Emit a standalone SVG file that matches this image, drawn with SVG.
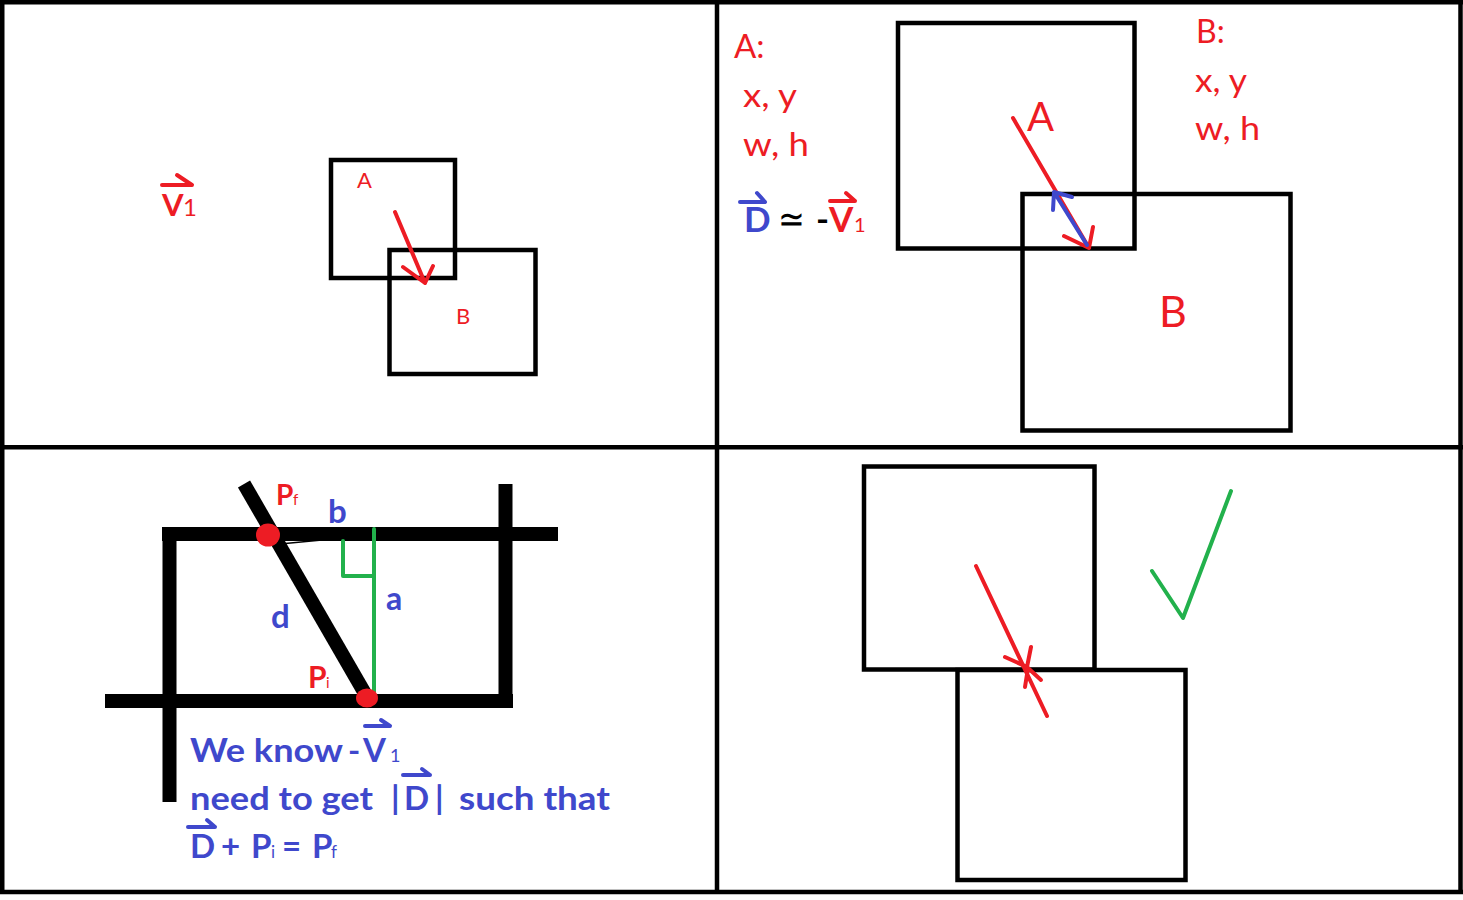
<svg xmlns="http://www.w3.org/2000/svg" width="1463" height="900" viewBox="0 0 1463 900">
<style>
.fr{stroke:#000;stroke-width:4.5;fill:none}
.box{fill:none;stroke:#000;stroke-width:4.5}
.thick{stroke:#000;stroke-width:14;fill:none}
.t{font-family:Lato,"Liberation Sans",sans-serif}
.bd{font-weight:bold}
.r{fill:#ed1c24}
.bl{fill:#3f48cc}
.k{fill:#000}
.rs{stroke:#ed1c24;stroke-width:4;fill:none;stroke-linecap:round;stroke-linejoin:round}
.bs{stroke:#3f48cc;stroke-width:4;fill:none;stroke-linecap:round;stroke-linejoin:round}
.gs{stroke:#22b14c;stroke-width:4;fill:none;stroke-linecap:round;stroke-linejoin:round}
</style>
<rect width="1463" height="900" fill="#fff"/>
<g id="frame">
<line class="fr" x1="0" y1="2.25" x2="1463" y2="2.25"/>
<line class="fr" x1="2.25" y1="0" x2="2.25" y2="894"/>
<line class="fr" x1="1460.5" y1="0" x2="1460.5" y2="894"/>
<line class="fr" x1="0" y1="892" x2="1463" y2="892"/>
<line class="fr" x1="717" y1="0" x2="717" y2="894"/>
<line class="fr" x1="0" y1="447.3" x2="1463" y2="447.3"/>
</g>
<!-- Panel 1 -->
<g id="p1-boxA"><rect class="box" x="331" y="160" width="124" height="118"/><text class="t r" x="357" y="188" font-size="22">A</text></g>
<g id="p1-boxB"><rect class="box" x="389.5" y="250" width="146" height="124"/><text class="t r" x="456" y="324" font-size="22">B</text></g>
<g id="p1-v1"><text class="t r bd" x="162" y="216" font-size="31">V</text><text class="t r" x="183" y="216" font-size="24">1</text></g>
<!-- Panel 2 -->
<g id="p2-boxA"><rect class="box" x="898" y="23" width="236.5" height="225.5"/><text class="t r" x="1027" y="131" font-size="40">A</text></g>
<g id="p2-boxB"><rect class="box" x="1022.5" y="194" width="268" height="236.5"/><text class="t r" x="1159" y="327" font-size="43">B</text></g>
<g id="p2-labelA">
<text class="t r" x="734" y="58" font-size="33">A:</text>
<text class="t r" x="743" y="107" font-size="33" textLength="54" lengthAdjust="spacingAndGlyphs">x, y</text>
<text class="t r" x="743" y="156" font-size="33" textLength="66" lengthAdjust="spacingAndGlyphs">w, h</text>
</g>
<g id="p2-labelB">
<text class="t r" x="1196" y="43" font-size="32">B:</text>
<text class="t r" x="1195" y="92" font-size="33" textLength="52" lengthAdjust="spacingAndGlyphs">x, y</text>
<text class="t r" x="1195" y="140" font-size="33" textLength="65" lengthAdjust="spacingAndGlyphs">w, h</text>
</g>
<g id="p2-eq">
<text class="t bl bd" x="744" y="232" font-size="35">D</text>
<text class="t k" x="778" y="232" font-size="38" textLength="27" lengthAdjust="spacingAndGlyphs">≃</text>
<text class="t k bd" x="816" y="232" font-size="35">-</text>
<text class="t r bd" x="829" y="232" font-size="35">V</text>
<text class="t r" x="854" y="232" font-size="20">1</text>
</g>
<!-- Panel 3 -->
<g id="p3-shape">
<line class="thick" x1="162" y1="534" x2="558" y2="534"/>
<line class="thick" x1="169.5" y1="527" x2="169.5" y2="802"/>
<line class="thick" x1="105" y1="701" x2="513" y2="701"/>
<line class="thick" x1="505.5" y1="484" x2="505.5" y2="708"/>
<line class="thick" x1="244" y1="484" x2="367" y2="697"/>
<line x1="280" y1="544" x2="322" y2="540" stroke="#000" stroke-width="1.5"/>
</g>
<g id="p3-green">
<line class="gs" x1="374" y1="529" x2="374" y2="692"/>
<polyline class="gs" points="343,541 343,576 374,576"/>
</g>
<g id="p3-points">
<ellipse cx="268" cy="535" rx="12" ry="11.5" fill="#ed1c24"/>
<ellipse cx="367" cy="698" rx="11" ry="9.5" fill="#ed1c24"/>
<text class="t r bd" x="276" y="505" font-size="28">P</text><text class="t r" x="293" y="505" font-size="15">f</text>
<text class="t r bd" x="308" y="688" font-size="30">P</text><text class="t r" x="326" y="688" font-size="15">i</text>
<text class="t bl bd" x="328" y="523" font-size="33">b</text>
<text class="t bl bd" x="386" y="610" font-size="32">a</text>
<text class="t bl bd" x="271" y="628" font-size="33">d</text>
</g>
<g id="p3-text">
<text class="t bl bd" x="190" y="762" font-size="33" textLength="153" lengthAdjust="spacingAndGlyphs">We know</text>
<text class="t bl bd" x="348" y="762" font-size="33">-</text>
<text class="t bl bd" x="363" y="762" font-size="33">V</text>
<text class="t bl" x="390" y="762" font-size="18">1</text>
<text class="t bl bd" x="190" y="810" font-size="33" textLength="183" lengthAdjust="spacingAndGlyphs">need to get</text>
<text class="t bl bd" x="391" y="810" font-size="33">|</text>
<text class="t bl bd" x="404" y="810" font-size="33">D</text>
<text class="t bl bd" x="435" y="810" font-size="33">|</text>
<text class="t bl bd" x="459" y="810" font-size="33" textLength="151" lengthAdjust="spacingAndGlyphs">such that</text>
<text class="t bl bd" x="190" y="858" font-size="33">D</text>
<text class="t bl bd" x="221" y="858" font-size="33">+</text>
<text class="t bl bd" x="251" y="858" font-size="33">P</text>
<text class="t bl" x="271" y="858" font-size="17">i</text>
<text class="t bl bd" x="282" y="858" font-size="33">=</text>
<text class="t bl bd" x="312" y="858" font-size="33">P</text>
<text class="t bl" x="331" y="858" font-size="17">f</text>
</g>
<!-- Panel 4 -->
<g id="p4-boxTop"><rect class="box" x="864" y="466.5" width="230.5" height="203"/></g>
<g id="p4-boxBottom"><rect class="box" x="957.5" y="670" width="228" height="210"/></g>
<g id="p4-check"><polyline class="gs" points="1152,571 1183,618 1231,491"/></g>
<g id="connectors">
<path class="rs" d="M162,185 H192 M177,175 L192,185"/>
<path class="bs" d="M740,202 H765 M757,193 L765,202"/>
<path class="rs" d="M830,201 H855 M846,193 L855,201"/>
<path class="bs" d="M365,726 H390 M381,720 L390,726"/>
<path class="bs" d="M403,775 H430 M422,769 L430,775"/>
<path class="bs" d="M188,827 H215 M207,820 L215,827"/>
<path class="rs" d="M395,212 L425,283 M403,267 L425,283 L433,266"/>
<path class="rs" d="M1013,118 L1089,248 M1064,236 L1089,248 L1093,227"/>
<path class="bs" d="M1054,192 L1087,245 M1053,210 L1054,192 L1072,197"/>
<path class="rs" d="M976,566 L1047,716"/>
<path class="rs" d="M1005,657 L1027,667 L1031,647"/>
<path class="rs" d="M1025,687 L1028,668 L1041,680"/>
</g>
</svg>
